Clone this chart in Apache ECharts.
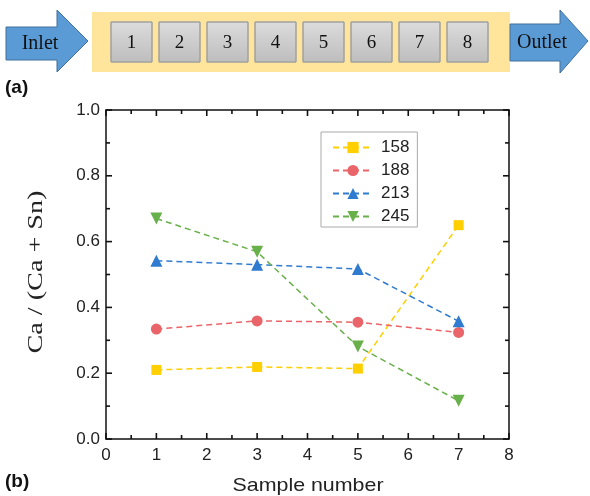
<!DOCTYPE html>
<html><head><meta charset="utf-8">
<script src="https://cdn.jsdelivr.net/npm/echarts@6/dist/echarts.min.js"></script>
<style>html,body{margin:0;padding:0;background:#fff}#c{width:590px;height:496px}</style>
</head><body><div id="c"></div>
<script>
var xValues = [1, 3, 5, 7];
var seriesNames = ['158', '188', '213', '245'];
var s158 = [0.210, 0.219, 0.214, 0.650];
var s188 = [0.334, 0.359, 0.355, 0.324];
var s213 = [0.542, 0.530, 0.517, 0.358];
var s245 = [0.670, 0.569, 0.281, 0.116];
var boxLabels = ['1','2','3','4','5','6','7','8'];
var yAxisTitle = 'Ca / (Ca + Sn)';
var xAxisTitle = 'Sample number';

var colors = ['#ffcf00', '#e9656a', '#2e7bcf', '#68b04a'];
var symbols = ['rect', 'circle', 'triangle', 'path://M0,0 L10,0 L5,9 Z'];
var sizes = [10, 11, 12, 12];
var allData = [s158, s188, s213, s245];

var X_MIN = 0, X_MAX = 8, X_STEP = 1;
var Y_MIN = 0, Y_MAX = 1, Y_STEP = 0.2;
var GRID = {left:106, right:81, top:110, bottom:57};
var W = 590, H = 496;

function measure(text, font){
  var ctx = document.createElement('canvas').getContext('2d');
  ctx.font = font; return ctx.measureText(text).width;
}

var chart = echarts.init(document.getElementById('c'));

var serif20 = '20px "Liberation Serif", serif';
var graphics = [];
graphics.push({type:'rect', shape:{x:92,y:12,width:418,height:60}, style:{fill:'#ffe49c'}, z:1});
graphics.push({type:'polygon', shape:{points:[[6,27],[57,27],[57,10],[88,41],[57,72],[57,60],[6,60]]},
  style:{fill:'#5b9bd5', stroke:'#41719c', lineWidth:1}, z:2});
graphics.push({type:'text', style:{text:'Inlet', x:40, y:44, align:'center', verticalAlign:'middle',
  font:serif20, fill:'#111'}, z:3});
graphics.push({type:'polygon', shape:{points:[[510,24],[560,24],[560,10],[588,41],[560,73],[560,61],[510,61]]},
  style:{fill:'#5b9bd5', stroke:'#41719c', lineWidth:1}, z:2});
graphics.push({type:'text', style:{text:'Outlet', x:542, y:43, align:'center', verticalAlign:'middle',
  font:serif20, fill:'#111'}, z:3});
boxLabels.forEach(function(t, i){
  var x0 = 111 + i*48;
  graphics.push({type:'rect', shape:{x:x0,y:22,width:41,height:40},
    style:{fill:new echarts.graphic.LinearGradient(0,0,0,1,[{offset:0,color:'#dcdcdc'},{offset:1,color:'#bdbdbd'}]),
      stroke:'#a0a0a0', lineWidth:1}, z:2});
  graphics.push({type:'text', style:{text:t, x:x0+20.5, y:43, align:'center', verticalAlign:'middle',
    font:'19px "Liberation Serif", serif', fill:'#111'}, z:3});
});
graphics.push({type:'text', style:{text:'(a)', x:5, y:88, verticalAlign:'middle',
  font:'bold 19px "Liberation Sans", Arial, sans-serif', fill:'#111'}});
graphics.push({type:'text', style:{text:'(b)', x:5, y:482, verticalAlign:'middle',
  font:'bold 19px "Liberation Sans", Arial, sans-serif', fill:'#111'}});
var yFont = '20px "Liberation Serif", serif';
graphics.push({type:'text', x:37, y:272, rotation:Math.PI/2, scaleX:163/measure(yAxisTitle, yFont),
  style:{text:yAxisTitle, x:0, y:0, align:'center', verticalAlign:'middle', font:yFont, fill:'#222'}});
var xFont = '19px "Liberation Sans", Arial, sans-serif';
graphics.push({type:'text', x:308, y:486, scaleX:151/measure(xAxisTitle, xFont),
  style:{text:xAxisTitle, x:0, y:0, align:'center', verticalAlign:'middle', font:xFont, fill:'#222'}});

var series = seriesNames.map(function(n, k){
  return {
    name: n, type: 'line',
    data: xValues.map(function(x, i){ return [x, allData[k][i]]; }),
    symbol: symbols[k], symbolSize: sizes[k],
    itemStyle: {color: colors[k]},
    lineStyle: {color: colors[k], width: 1.5, type: [6, 4]},
    z: 3
  };
});

var axisCommon = {
  axisLine:{show:true, onZero:false, lineStyle:{color:'#111', width:1.5}},
  axisTick:{show:false}, splitLine:{show:false}
};
function axisBase(extra){
  var o = JSON.parse(JSON.stringify(axisCommon));
  for (var k in extra) o[k] = extra[k];
  return o;
}

// inward tick marks on all four sides, as thin filled rects
function pixelOf(x, y){
  var p = null;
  try { p = chart.convertToPixel({gridIndex:0}, [x, y]); } catch (e) { p = null; }
  if (!p || !isFinite(p[0]) || !isFinite(p[1])) {
    var gw = W - GRID.left - GRID.right, gh = H - GRID.top - GRID.bottom;
    p = [GRID.left + (x - X_MIN) / (X_MAX - X_MIN) * gw,
         GRID.top + gh - (y - Y_MIN) / (Y_MAX - Y_MIN) * gh];
  }
  return p;
}
function tickRect(x, y, w, h){
  return {type:'rect', shape:{x:x, y:y, width:w, height:h}, style:{fill:'#111'}, z:100, zlevel:0};
}
function buildTicks(){
  var ticks = [], TW = 1.6, i, j;
  var nx = Math.round((X_MAX - X_MIN) / (X_STEP / 2));
  for (i = 0; i <= nx; i++) {
    var xv = X_MIN + i * X_STEP / 2, len = (i % 2 === 0) ? 6 : 4;
    var pb = pixelOf(xv, Y_MIN), pt = pixelOf(xv, Y_MAX);
    ticks.push(tickRect(pb[0] - TW/2, pb[1] - len, TW, len));
    ticks.push(tickRect(pt[0] - TW/2, pt[1], TW, len));
  }
  var ny = Math.round((Y_MAX - Y_MIN) / (Y_STEP / 2));
  for (j = 0; j <= ny; j++) {
    var yv = Y_MIN + j * Y_STEP / 2, leny = (j % 2 === 0) ? 6 : 4;
    var pl = pixelOf(X_MIN, yv), pr = pixelOf(X_MAX, yv);
    ticks.push(tickRect(pl[0], pl[1] - TW/2, leny, TW));
    ticks.push(tickRect(pr[0] - leny, pr[1] - TW/2, leny, TW));
  }
  return ticks;
}

chart.setOption({
  animation: false,
  textStyle: {fontFamily: '"Liberation Sans", Arial, sans-serif'},
  graphic: graphics,
  grid: {left:GRID.left, right:GRID.right, top:GRID.top, bottom:GRID.bottom, containLabel:false},
  legend: {
    data: seriesNames, orient:'vertical', left:321, top:132,
    itemWidth: 40, itemHeight: 14, itemGap: 6,
    padding: [7, 8, 2, 11],
    borderColor:'#aaa', borderWidth:1, backgroundColor:'#fff',
    textStyle:{fontSize:17, lineHeight:14, color:'#222', padding:[0,0,0,3], fontFamily:'"Liberation Sans", Arial, sans-serif'}
  },
  xAxis: [
    axisBase({type:'value', min:X_MIN, max:X_MAX, interval:X_STEP, position:'bottom',
      axisLabel:{fontSize:17, color:'#222', margin:8}}),
    axisBase({type:'value', min:X_MIN, max:X_MAX, interval:X_STEP, position:'top', axisLabel:{show:false}})
  ],
  yAxis: [
    axisBase({type:'value', min:Y_MIN, max:Y_MAX, interval:Y_STEP, position:'left',
      axisLabel:{fontSize:17, color:'#222', margin:6, formatter:function(v){return v.toFixed(1);}}}),
    axisBase({type:'value', min:Y_MIN, max:Y_MAX, interval:Y_STEP, position:'right', axisLabel:{show:false}})
  ],
  series: series
});

chart.setOption({graphic: graphics.concat(buildTicks())});
</script></body></html>
